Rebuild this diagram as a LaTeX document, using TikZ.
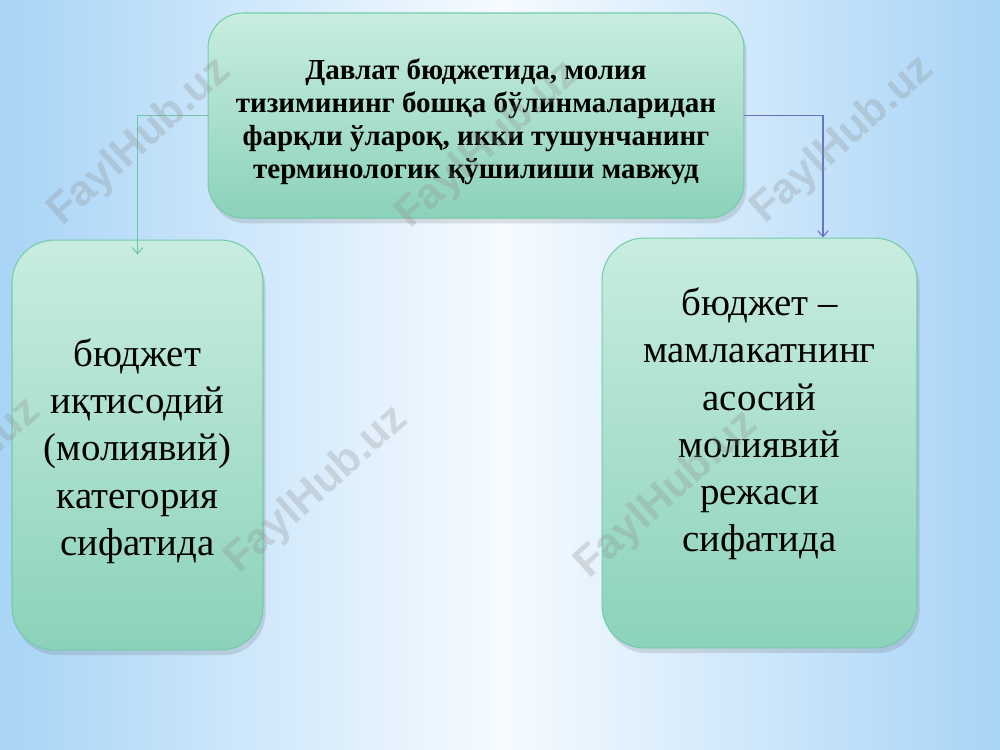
\documentclass[tikz,border=0pt]{standalone}
\usepackage{fontspec}
\setmainfont{Liberation Serif}
\newfontfamily\wmfont{Liberation Sans}
\usepackage{xcolor}
\usepackage{tikz}
\usetikzlibrary{positioning}
\usetikzlibrary{shadows}
\usetikzlibrary{arrows,arrows.meta}
\usetikzlibrary{calc}

\definecolor{bgblue}{HTML}{A8D4F6}
\definecolor{bgwhite}{HTML}{F6FBFF}
\definecolor{mintlight}{HTML}{C8EDDF}
\definecolor{mintdark}{HTML}{8CD2BA}
\definecolor{mintline}{HTML}{74CBAA}
\definecolor{tealline}{HTML}{6CC5A8}
\definecolor{blueline}{HTML}{6A72C8}

\begin{document}
\begin{tikzpicture}[x=0.02cm,y=-0.02cm]
\tikzstyle{mintbox}=[draw=mintline, line width=0.6pt, top color=mintlight, bottom color=mintdark,
	drop shadow={shadow xshift=1.5pt, shadow yshift=-3pt, opacity=0.16, fill=black!70},
	align=center, inner sep=0pt]
\tikzstyle{topbox}=[mintbox, rounded corners=0.7cm, minimum width=10.72cm, minimum height=4.1cm,
	font=\fontsize{16.5}{18.7}\selectfont\bfseries]
\tikzstyle{sidebox}=[mintbox, rounded corners=0.85cm, minimum height=8.2cm,
	font=\fontsize{22.1}{26.9}\selectfont]
\tikzstyle{watermark}=[text=black!45, opacity=0.28, rotate=42, font=\wmfont\fontsize{24.4}{28}\selectfont\bfseries]
\tikzstyle{link}=[line width=0.6pt, -{Straight Barb[length=3.5pt,width=6pt]}]
\useasboundingbox (0,0) rectangle (1000,750);
\shade[left color=bgblue, right color=bgblue, middle color=bgwhite] (0,0) rectangle (1000,750);

\node[topbox] (topbox) at (476,115.5) {Давлат бюджетида, молия\\
тизимининг бошқа бўлинмаларидан\\
фарқли ўлароқ, икки тушунчанинг\\
терминологик қўшилиши мавжуд\par\vspace{-0.24cm}};
\node[sidebox, minimum width=5.02cm] (leftbox) at (137.5,445) {бюджет\\
иқтисодий\\
(молиявий)\\
категория\\
сифатида\par\vspace{-0.24cm}};
\node[sidebox, minimum width=6.3cm] (rightbox) at (759.5,443) {бюджет --\\
мамлакатнинг\\
асосий\\
молиявий\\
режаси\\
сифатида\par\vspace{0.76cm}};

\coordinate (leftend) at ($(leftbox.north)+(0,15)$);
\coordinate (rightend) at ($(rightbox.north)+(63.5,0)$);
\draw[link, tealline] (topbox.west) -| (leftend);
\draw[link, blueline] (topbox.east) -| (rightend);

\node[watermark] (wm1) at (140,142) {FaylHub.uz};
\node[watermark] (wm2) at (488,145) {FaylHub.uz};
\node[watermark] (wm3) at (843,140) {FaylHub.uz};
\node[watermark] (wm4) at (317,490) {FaylHub.uz};
\node[watermark] (wm5) at (667,495) {FaylHub.uz};
\node[watermark] (wm6) at (-50,482) {FaylHub.uz};
\end{tikzpicture}
\end{document}
